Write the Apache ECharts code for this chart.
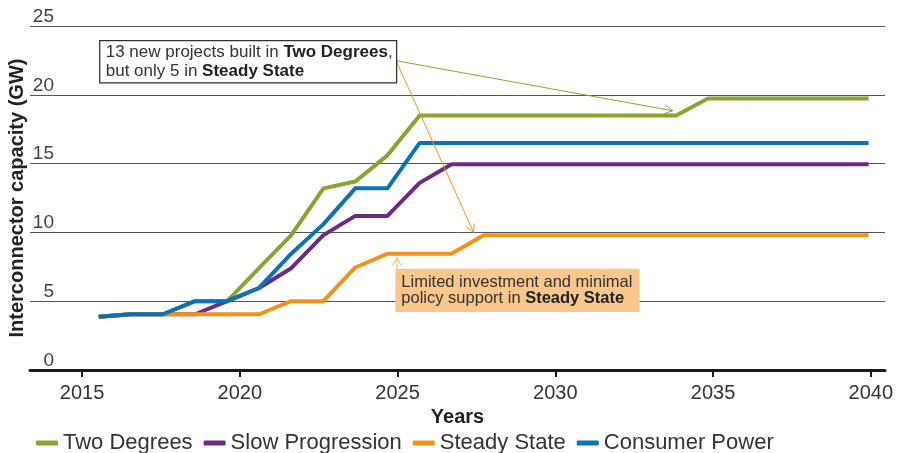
<!DOCTYPE html>
<html>
<head>
<meta charset="utf-8">
<script src="https://cdn.jsdelivr.net/npm/echarts@6/dist/echarts.min.js"></script>
<style>
  html, body { margin: 0; padding: 0; background: #fff; }
  #chart { width: 900px; height: 453px; }
</style>
</head>
<body>
<div id="chart"></div>
<script>
// Plotted year positions of the annual capacity readings
const yearPos = [2015.53, 2016.55, 2017.56, 2018.58, 2019.60, 2020.61, 2021.63, 2022.65, 2023.66,
  2024.68, 2025.70, 2026.71, 2027.73, 2028.75, 2029.76, 2030.78, 2031.79, 2032.81, 2033.83,
  2034.84, 2035.86, 2036.88, 2037.89, 2038.91, 2039.93];

// Axis tick labels
const xTicks = [2015, 2020, 2025, 2030, 2035, 2040];
const yTicks = [0, 5, 10, 15, 20, 25];

// Interconnector capacity (GW) per scenario
const twoDegrees = [3.87, 4.05, 4.05, 5.0, 5.0, 7.4, 9.8, 13.2, 13.7, 15.6,
  18.5, 18.5, 18.5, 18.5, 18.5, 18.5, 18.5, 18.5, 18.5,
  19.73, 19.73, 19.73, 19.73, 19.73, 19.73];
const slowProgression = [3.87, 4.05, 4.05, 4.05, 5.0, 5.96, 7.4, 9.8, 11.2, 11.2, 13.6,
  14.95, 14.95, 14.95, 14.95, 14.95, 14.95, 14.95, 14.95, 14.95, 14.95, 14.95, 14.95, 14.95, 14.95];
const steadyState = [3.87, 4.05, 4.05, 4.05, 4.05, 4.05, 5.0, 5.0, 7.45, 8.45, 8.45, 8.45,
  9.8, 9.8, 9.8, 9.8, 9.8, 9.8, 9.8, 9.8, 9.8, 9.8, 9.8, 9.8, 9.8];
const consumerPower = [3.87, 4.05, 4.05, 5.0, 5.0, 5.96, 8.45, 10.6, 13.2, 13.2,
  16.5, 16.5, 16.5, 16.5, 16.5, 16.5, 16.5, 16.5, 16.5, 16.5, 16.5, 16.5, 16.5, 16.5, 16.5];

const scenarioNames = ['Two Degrees', 'Slow Progression', 'Steady State', 'Consumer Power'];
const scenarioColors = ['#87A630', '#6C2A86', '#F39218', '#0A72B8'];
const scenarioValues = [twoDegrees, slowProgression, steadyState, consumerPower];

// Callout anchors, in axis units (year, GW)
const noteTop = { topLeft: [2015.56, 23.93], bottomRight: [2024.97, 20.87] };
const noteTopArrows = [
  { from: [2024.97, 22.47], to: [2033.72, 18.84], color: '#87A630' },
  { from: [2024.97, 22.40], to: [2027.41, 10.0], color: '#F39218' }
];
const noteLow = { topLeft: [2024.93, 7.35], bottomRight: [2032.67, 4.22] };
const noteLowArrow = { from: [2024.98, 7.35], to: [2024.98, 8.15], color: '#F8C48C' };

const FONT = '"Liberation Sans", Arial, Helvetica, sans-serif';
const chart = echarts.init(document.getElementById('chart'), null, { renderer: 'canvas' });

chart.setOption({
  animation: false,
  textStyle: { fontFamily: FONT },
  grid: { left: 30, right: 15, top: 26, bottom: 83, containLabel: false, outerBoundsMode: 'none' },
  legend: {
    left: 31, top: 427,
    icon: 'roundRect', itemWidth: 22, itemHeight: 5, itemGap: 11,
    selectedMode: false,
    textStyle: { fontSize: 22, color: '#333', fontFamily: FONT },
    data: scenarioNames
  },
  xAxis: {
    type: 'value', min: 2013.35, max: 2040.45,
    name: 'Years', nameLocation: 'middle', nameGap: 34,
    nameTextStyle: { fontSize: 20, fontWeight: 'bold', color: '#222', fontFamily: FONT },
    axisLine: { show: true, lineStyle: { color: '#1a1a1a', width: 3 } },
    axisTick: { show: true, customValues: xTicks, length: 7, lineStyle: { color: '#1a1a1a', width: 2 } },
    axisLabel: {
      customValues: xTicks, fontSize: 20, color: '#333', margin: 13, fontFamily: FONT,
      formatter: v => String(v)
    },
    splitLine: { show: false }
  },
  yAxis: {
    type: 'value', min: yTicks[0], max: yTicks[yTicks.length - 1], interval: 5,
    name: 'Interconnector capacity (GW)', nameLocation: 'middle', nameGap: 3,
    nameMoveOverlap: false,
    nameTextStyle: { fontSize: 20, fontWeight: 'bold', color: '#222', fontFamily: FONT },
    axisLine: { show: false },
    axisTick: { show: false },
    axisLabel: {
      inside: true, margin: 1, verticalAlign: 'bottom',
      formatter: v => '{v|' + v + '}',
      rich: { v: { width: 23, align: 'right', fontSize: 19, color: '#444', fontFamily: FONT } }
    },
    splitLine: { show: true, lineStyle: { color: '#555', width: 1 } }
  },
  series: scenarioNames.map((name, k) => ({
    name: name,
    type: 'line',
    showSymbol: false,
    symbol: 'none',
    z: 2 + k,
    color: scenarioColors[k],
    lineStyle: { width: 4, color: scenarioColors[k] },
    data: scenarioValues[k].map((v, i) => [yearPos[i], v])
  }))
});

// Callout boxes and arrows, placed through the grid's coordinate system
function px(pt) { return chart.convertToPixel({ gridIndex: 0 }, pt); }

function arrow(a, width) {
  const p0 = px(a.from), p1 = px(a.to);
  const ang = Math.atan2(p1[1] - p0[1], p1[0] - p0[0]);
  const len = 9, spread = 0.5;
  const h1 = [p1[0] - len * Math.cos(ang - spread), p1[1] - len * Math.sin(ang - spread)];
  const h2 = [p1[0] - len * Math.cos(ang + spread), p1[1] - len * Math.sin(ang + spread)];
  return [
    { type: 'line', z: 20, shape: { x1: p0[0], y1: p0[1], x2: p1[0], y2: p1[1] },
      style: { stroke: a.color, lineWidth: width } },
    { type: 'polyline', z: 20, shape: { points: [h1, p1, h2] },
      style: { stroke: a.color, lineWidth: width, fill: null } }
  ];
}

function noteBox(n, fill, stroke, text, lineHeight, fontSize) {
  const a = px(n.topLeft), b = px(n.bottomRight);
  const w = b[0] - a[0], h = b[1] - a[1];
  const textTop = a[1] + (h - 2 * lineHeight) / 2;
  return [
    { type: 'rect', z: 30, shape: { x: a[0], y: a[1], width: w, height: h },
      style: { fill: fill, stroke: stroke, lineWidth: stroke ? 1.3 : 0 } },
    { type: 'text', z: 31, x: a[0] + 6, y: textTop,
      style: {
        text: text, fill: '#333', fontSize: fontSize, fontFamily: FONT,
        lineHeight: lineHeight, verticalAlign: 'top', align: 'left',
        rich: { b: { fontWeight: 'bold', fontSize: fontSize, fontFamily: FONT, fill: '#222', lineHeight: lineHeight } }
      } }
  ];
}

const graphics = []
  .concat(arrow(noteTopArrows[0], 1))
  .concat(arrow(noteTopArrows[1], 1))
  .concat(arrow(noteLowArrow, 1.2))
  .concat(noteBox(noteTop, '#ffffff', '#333',
    '13 new projects built in {b|Two Degrees},\nbut only 5 in {b|Steady State}', 18.5, 17))
  .concat(noteBox(noteLow, '#F9C68C', null,
    'Limited investment and minimal\npolicy support in {b|Steady State}', 16.5, 16.5));

chart.setOption({ graphic: graphics });
</script>
</body>
</html>
